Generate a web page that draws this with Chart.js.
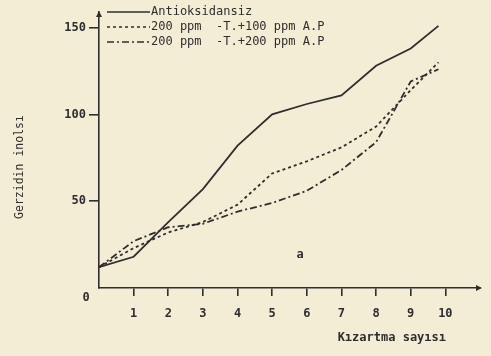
<!DOCTYPE html>
<html>
<head>
<meta charset="utf-8">
<script src="https://cdn.jsdelivr.net/npm/chart.js@4/dist/chart.umd.min.js"></script>
<style>
  body { margin: 0; background: #f4edd6; }
  canvas { display: block; }
</style>
</head>
<body>
<canvas id="kizartmaChart" width="491" height="356"></canvas>
<script>
// frying count (x) and values per series
var fryCounts = [0, 1, 2, 3, 4, 5, 6, 7, 8, 9, 9.8];
var antioksidansiz = [12, 18, 38, 57, 82, 100, 106, 111, 128, 138, 151];
var ppm100AP = [12, 23, 32, 38, 48, 66, 73, 81, 93, 114, 130];
var ppm200AP = [12, 27, 35, 37, 44, 49, 56, 68, 84, 119, 126];
var yTicks = [50, 100, 150];
var xTicks = [1, 2, 3, 4, 5, 6, 7, 8, 9, 10];

var seriesNames = ["Antioksidansiz", "200 ppm  -T.+100 ppm A.P", "200 ppm  -T.+200 ppm A.P"];
var ink = "#2e2e2e";
var mono = "'DejaVu Sans Mono', monospace";

function pts(vals) {
    return vals.map(function (v, i) { return { x: fryCounts[i], y: v }; });
}

var dashes = [[], [3, 3], [7, 3, 2, 3]];

// legend, arrows and free texts
var extras = {
    id: 'extras',
    afterDraw: function (chart) {
        var ctx = chart.ctx;
        var xs = chart.scales.x, ys = chart.scales.y;
        var x0 = xs.getPixelForValue(0), y0 = ys.getPixelForValue(0);
        ctx.save();
        ctx.strokeStyle = ink;
        ctx.fillStyle = ink;
        ctx.lineWidth = 1.6;
        // arrow heads
        ctx.beginPath();
        ctx.moveTo(x0, chart.chartArea.top - 1);
        ctx.lineTo(x0 - 3, chart.chartArea.top + 5);
        ctx.lineTo(x0 + 3, chart.chartArea.top + 5);
        ctx.closePath();
        ctx.fill();
        ctx.beginPath();
        ctx.moveTo(chart.chartArea.right + 2, y0);
        ctx.lineTo(chart.chartArea.right - 4, y0 - 3);
        ctx.lineTo(chart.chartArea.right - 4, y0 + 3);
        ctx.closePath();
        ctx.fill();

        // legend
        ctx.font = "12px " + mono;
        ctx.textBaseline = 'middle';
        ctx.textAlign = 'left';
        for (var i = 0; i < seriesNames.length; i++) {
            var ly = 12 + i * 15;
            ctx.beginPath();
            ctx.setLineDash(dashes[i]);
            ctx.lineWidth = 1.6;
            ctx.moveTo(107, ly);
            ctx.lineTo(150, ly);
            ctx.stroke();
            ctx.setLineDash([]);
            ctx.fillText(seriesNames[i], 151, ly);
        }

        // zero label, panel letter
        ctx.font = "bold 12px " + mono;
        ctx.textAlign = 'center';
        ctx.fillText("0", 86, 298);
        ctx.fillText("a", 300, 255);

        // axis titles
        ctx.font = "bold 12px " + mono;
        ctx.textAlign = 'right';
        ctx.fillText("Kızartma sayısı", 446, 338);
        ctx.font = "11.5px " + mono;
        ctx.translate(20, 167);
        ctx.rotate(-Math.PI / 2);
        ctx.textAlign = 'center';
        ctx.fillText("Gerzidin inolsı", 0, 0);
        ctx.restore();
    }
};

var ctxK = document.getElementById("kizartmaChart").getContext('2d');
var myLineChart = new Chart(ctxK, {
    type: 'line',
    data: {
        datasets: [{
            label: seriesNames[0],
            data: pts(antioksidansiz),
            borderColor: ink,
            borderWidth: 1.8,
            borderDash: dashes[0]
        }, {
            label: seriesNames[1],
            data: pts(ppm100AP),
            borderColor: ink,
            borderWidth: 1.8,
            borderDash: dashes[1]
        }, {
            label: seriesNames[2],
            data: pts(ppm200AP),
            borderColor: ink,
            borderWidth: 1.8,
            borderDash: dashes[2]
        }]
    },
    options: {
        responsive: false,
        animation: false,
        layout: { padding: { left: 0, top: 12, right: 11, bottom: 0 } },
        elements: { point: { radius: 0 }, line: { tension: 0 } },
        plugins: { legend: { display: false }, tooltip: { enabled: false } },
        scales: {
            x: {
                type: 'linear',
                min: 0,
                max: 11,
                afterFit: function (s) { s.height = 68; },
                afterBuildTicks: function (s) {
                    s.ticks = xTicks.map(function (v) { return { value: v }; });
                },
                border: { color: ink, width: 1.6 },
                grid: { drawOnChartArea: false, drawTicks: true, tickLength: 8, color: ink, lineWidth: 1.6 },
                ticks: { color: ink, padding: 11, font: { family: "DejaVu Sans Mono", size: 12, weight: 'bold' } }
            },
            y: {
                min: 0,
                max: 159,
                afterFit: function (s) { s.width = 99; },
                afterBuildTicks: function (s) {
                    s.ticks = yTicks.map(function (v) { return { value: v }; });
                },
                border: { color: ink, width: 1.6 },
                grid: { drawOnChartArea: false, drawTicks: true, tickLength: 10, color: ink, lineWidth: 1.6 },
                ticks: {
                    color: ink,
                    padding: 3,
                    font: { family: "DejaVu Sans Mono", size: 12, weight: 'bold' }
                }
            }
        }
    },
    plugins: [extras]
});
</script>
</body>
</html>
